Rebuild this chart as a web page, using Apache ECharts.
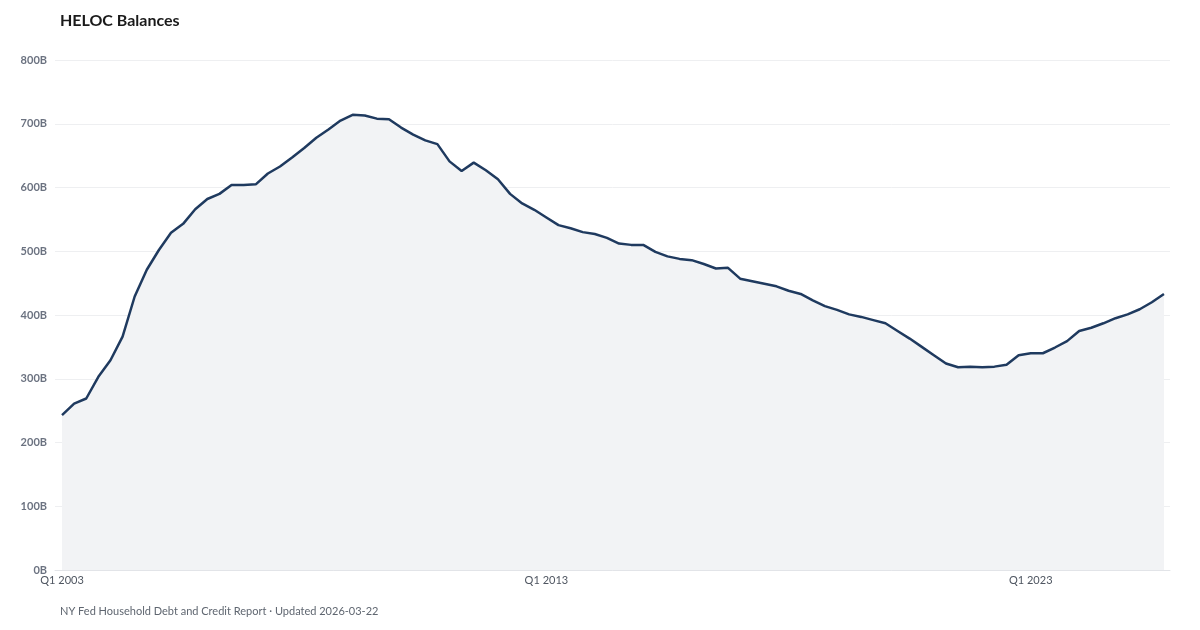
<!DOCTYPE html>
<html>
<head>
<meta charset="utf-8">
<script src="https://cdn.jsdelivr.net/npm/echarts@6/dist/echarts.min.js"></script>
<style>
html,body{margin:0;padding:0;background:#fff;}
#chart{width:1200px;height:630px;}
</style>
</head>
<body>
<div id="chart"></div>
<script>
// Quarterly HELOC balances (billions USD), Q1 2003 .. Q4 2025
const startYear = 2003;
const helocBalances = [
  243, 261, 269, 303, 329, 366, 429, 471, 502, 529, 543, 566, 582, 590, 604, 604,
  605, 622, 633, 647, 662, 678, 691, 705, 714, 713, 708, 707, 694, 683, 674, 668,
  641, 626, 639, 627, 613, 590, 575, 565, 553, 541, 536, 530, 527, 521, 512, 510,
  510, 499, 492, 488, 486, 480, 473, 474, 457, 453, 449, 445, 438, 433, 423, 414,
  408, 401, 397, 392, 387, 375, 363, 350, 337, 324, 318, 319, 318, 319, 322, 337,
  340, 340, 349, 359, 375, 380, 387, 395, 401, 409, 420, 433
];
const quarterLabels = helocBalances.map((_, i) =>
  'Q' + (i % 4 + 1) + ' ' + (startYear + Math.floor(i / 4)));
const xTickIndices = [0, 40, 80];
const yTicks = [0, 100, 200, 300, 400, 500, 600, 700, 800];
const titleText = 'HELOC Balances';
const footerText = 'NY Fed Household Debt and Credit Report · Updated 2026-03-22';

const chart = echarts.init(document.getElementById('chart'), null, {renderer: 'canvas'});
const font = 'Lato, "Noto Sans", sans-serif';
chart.setOption({
  animation: false,
  backgroundColor: '#ffffff',
  title: [
    {text: titleText, left: 55, top: 8,
     textStyle: {fontFamily: font, fontSize: 16, fontWeight: 'bold', color: '#1a1a1a'}},
    {text: footerText, left: 55, top: 601,
     textStyle: {fontFamily: font, fontSize: 11, fontWeight: 'normal', color: '#5f6670'}}
  ],
  grid: {left: 55, right: 30, top: 60, bottom: 60, containLabel: false},
  xAxis: {
    type: 'value',
    min: -0.58,
    max: 91.5,
    splitLine: {show: false},
    axisTick: {show: false},
    axisLine: {show: true, lineStyle: {color: '#e2e4e8', width: 1}},
    axisLabel: {
      customValues: xTickIndices,
      formatter: v => quarterLabels[Math.round(v)] || '',
      margin: 5,
      fontFamily: font, fontSize: 11, color: '#4f5661'
    }
  },
  yAxis: {
    type: 'value',
    min: yTicks[0],
    max: yTicks[yTicks.length - 1],
    interval: 100,
    axisLine: {show: false},
    axisTick: {show: false},
    splitLine: {show: true, lineStyle: {color: '#eeeff1', width: 1}},
    axisLabel: {
      formatter: v => v + 'B',
      margin: 8,
      fontFamily: font, fontSize: 11, fontWeight: 'bold', color: '#6b7280'
    }
  },
  series: [{
    type: 'line',
    data: helocBalances.map((v, i) => [i, v]),
    showSymbol: false,
    smooth: false,
    lineStyle: {color: '#1f3a5f', width: 2.5},
    areaStyle: {color: '#f2f3f5', opacity: 1},
    z: 3
  }]
});
</script>
</body>
</html>
